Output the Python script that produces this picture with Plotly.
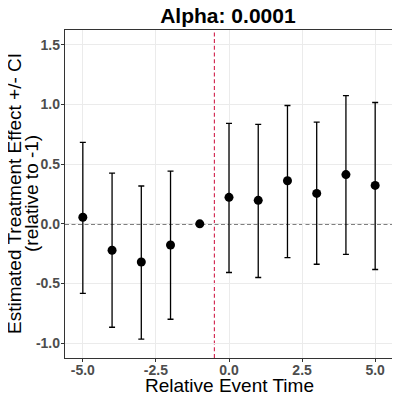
import plotly.graph_objects as go

# event study estimates
event_time = [-5, -4, -3, -2, -1, 0, 1, 2, 3, 4, 5]
estimate = [0.055, -0.222, -0.320, -0.178, 0.0, 0.222, 0.197, 0.361, 0.255, 0.413, 0.322]
ci_upper = [0.683, 0.425, 0.317, 0.442, None, 0.842, 0.833, 0.992, 0.853, 1.075, 1.017]
ci_lower = [-0.583, -0.867, -0.967, -0.800, None, -0.408, -0.450, -0.283, -0.339, -0.256, -0.383]

x_ticks = [-5, -2.5, 0, 2.5, 5]
x_tick_labels = ["-5.0", "-2.5", "0.0", "2.5", "5.0"]
y_ticks = [-1.0, -0.5, 0.0, 0.5, 1.0, 1.5]
y_tick_labels = ["-1.0", "-0.5", "0.0", "0.5", "1.0", "1.5"]

treatment_line = -0.5
alpha_text = "Alpha: 0.0001"

err_plus = [None if u is None else u - e for u, e in zip(ci_upper, estimate)]
err_minus = [None if l is None else e - l for l, e in zip(ci_lower, estimate)]

FONT = "Liberation Sans, Arial, sans-serif"

# the page body has an 8px margin, so the figure is sized 392 to fit the window
W = H = 392

fig = go.Figure()
fig.add_trace(go.Scatter(
    x=event_time, y=estimate, mode="markers",
    marker=dict(color="black", size=9),
    error_y=dict(type="data", symmetric=False, array=err_plus, arrayminus=err_minus,
                 color="black", thickness=1.3, width=3),
    showlegend=False,
))

# reference lines
fig.add_shape(type="line", xref="paper", x0=0, x1=1, yref="y", y0=0, y1=0,
              line=dict(color="black", width=1.4, dash="4px,2.5px"), layer="below")
fig.add_shape(type="line", xref="x", x0=treatment_line, x1=treatment_line,
              yref="paper", y0=0, y1=1,
              line=dict(color="#d0204a", width=1.1, dash="4px,2.7px"), layer="below")

axis_common = dict(
    showline=True, mirror=True, linecolor="#333333", linewidth=1.3,
    showgrid=True, gridcolor="#ebebeb", gridwidth=1,
    zeroline=False, ticks="outside", ticklen=3, tickcolor="#333333",
    tickfont=dict(family=FONT, size=14, color="#4d4d4d", weight="bold"),
)

fig.update_xaxes(range=[-5.61, 5.61], tickvals=x_ticks, ticktext=x_tick_labels,
                 ticklabelstandoff=-4, **axis_common)
fig.update_yaxes(range=[-1.125, 1.625], tickvals=y_ticks, ticktext=y_tick_labels,
                 ticklabelstandoff=-2, **axis_common)

fig.update_layout(
    width=W, height=H,
    margin=dict(l=57, r=7, t=22, b=42),
    plot_bgcolor="white", paper_bgcolor="white",
    font=dict(family=FONT, color="black"),
    title=dict(text=alpha_text, x=0.561, xanchor="center", y=0.98, yanchor="middle",
               font=dict(size=21, color="black", weight="bold")),
    annotations=[
        dict(text="Relative Event Time", xref="paper", yref="paper", x=0.5, y=0,
             xanchor="center", yanchor="middle", yshift=-27, showarrow=False,
             font=dict(size=19, color="black")),
        dict(text="Estimated Treatment Effect +/- CI", xref="paper", yref="paper",
             x=0, y=0.5, xanchor="center", yanchor="middle", xshift=-51,
             textangle=-90, showarrow=False, font=dict(size=19, color="black")),
        dict(text="(relative to -1)", xref="paper", yref="paper",
             x=0, y=0.5, xanchor="center", yanchor="middle", xshift=-34,
             textangle=-90, showarrow=False, font=dict(size=19, color="black")),
    ],
)

fig.write_html("out.html")
